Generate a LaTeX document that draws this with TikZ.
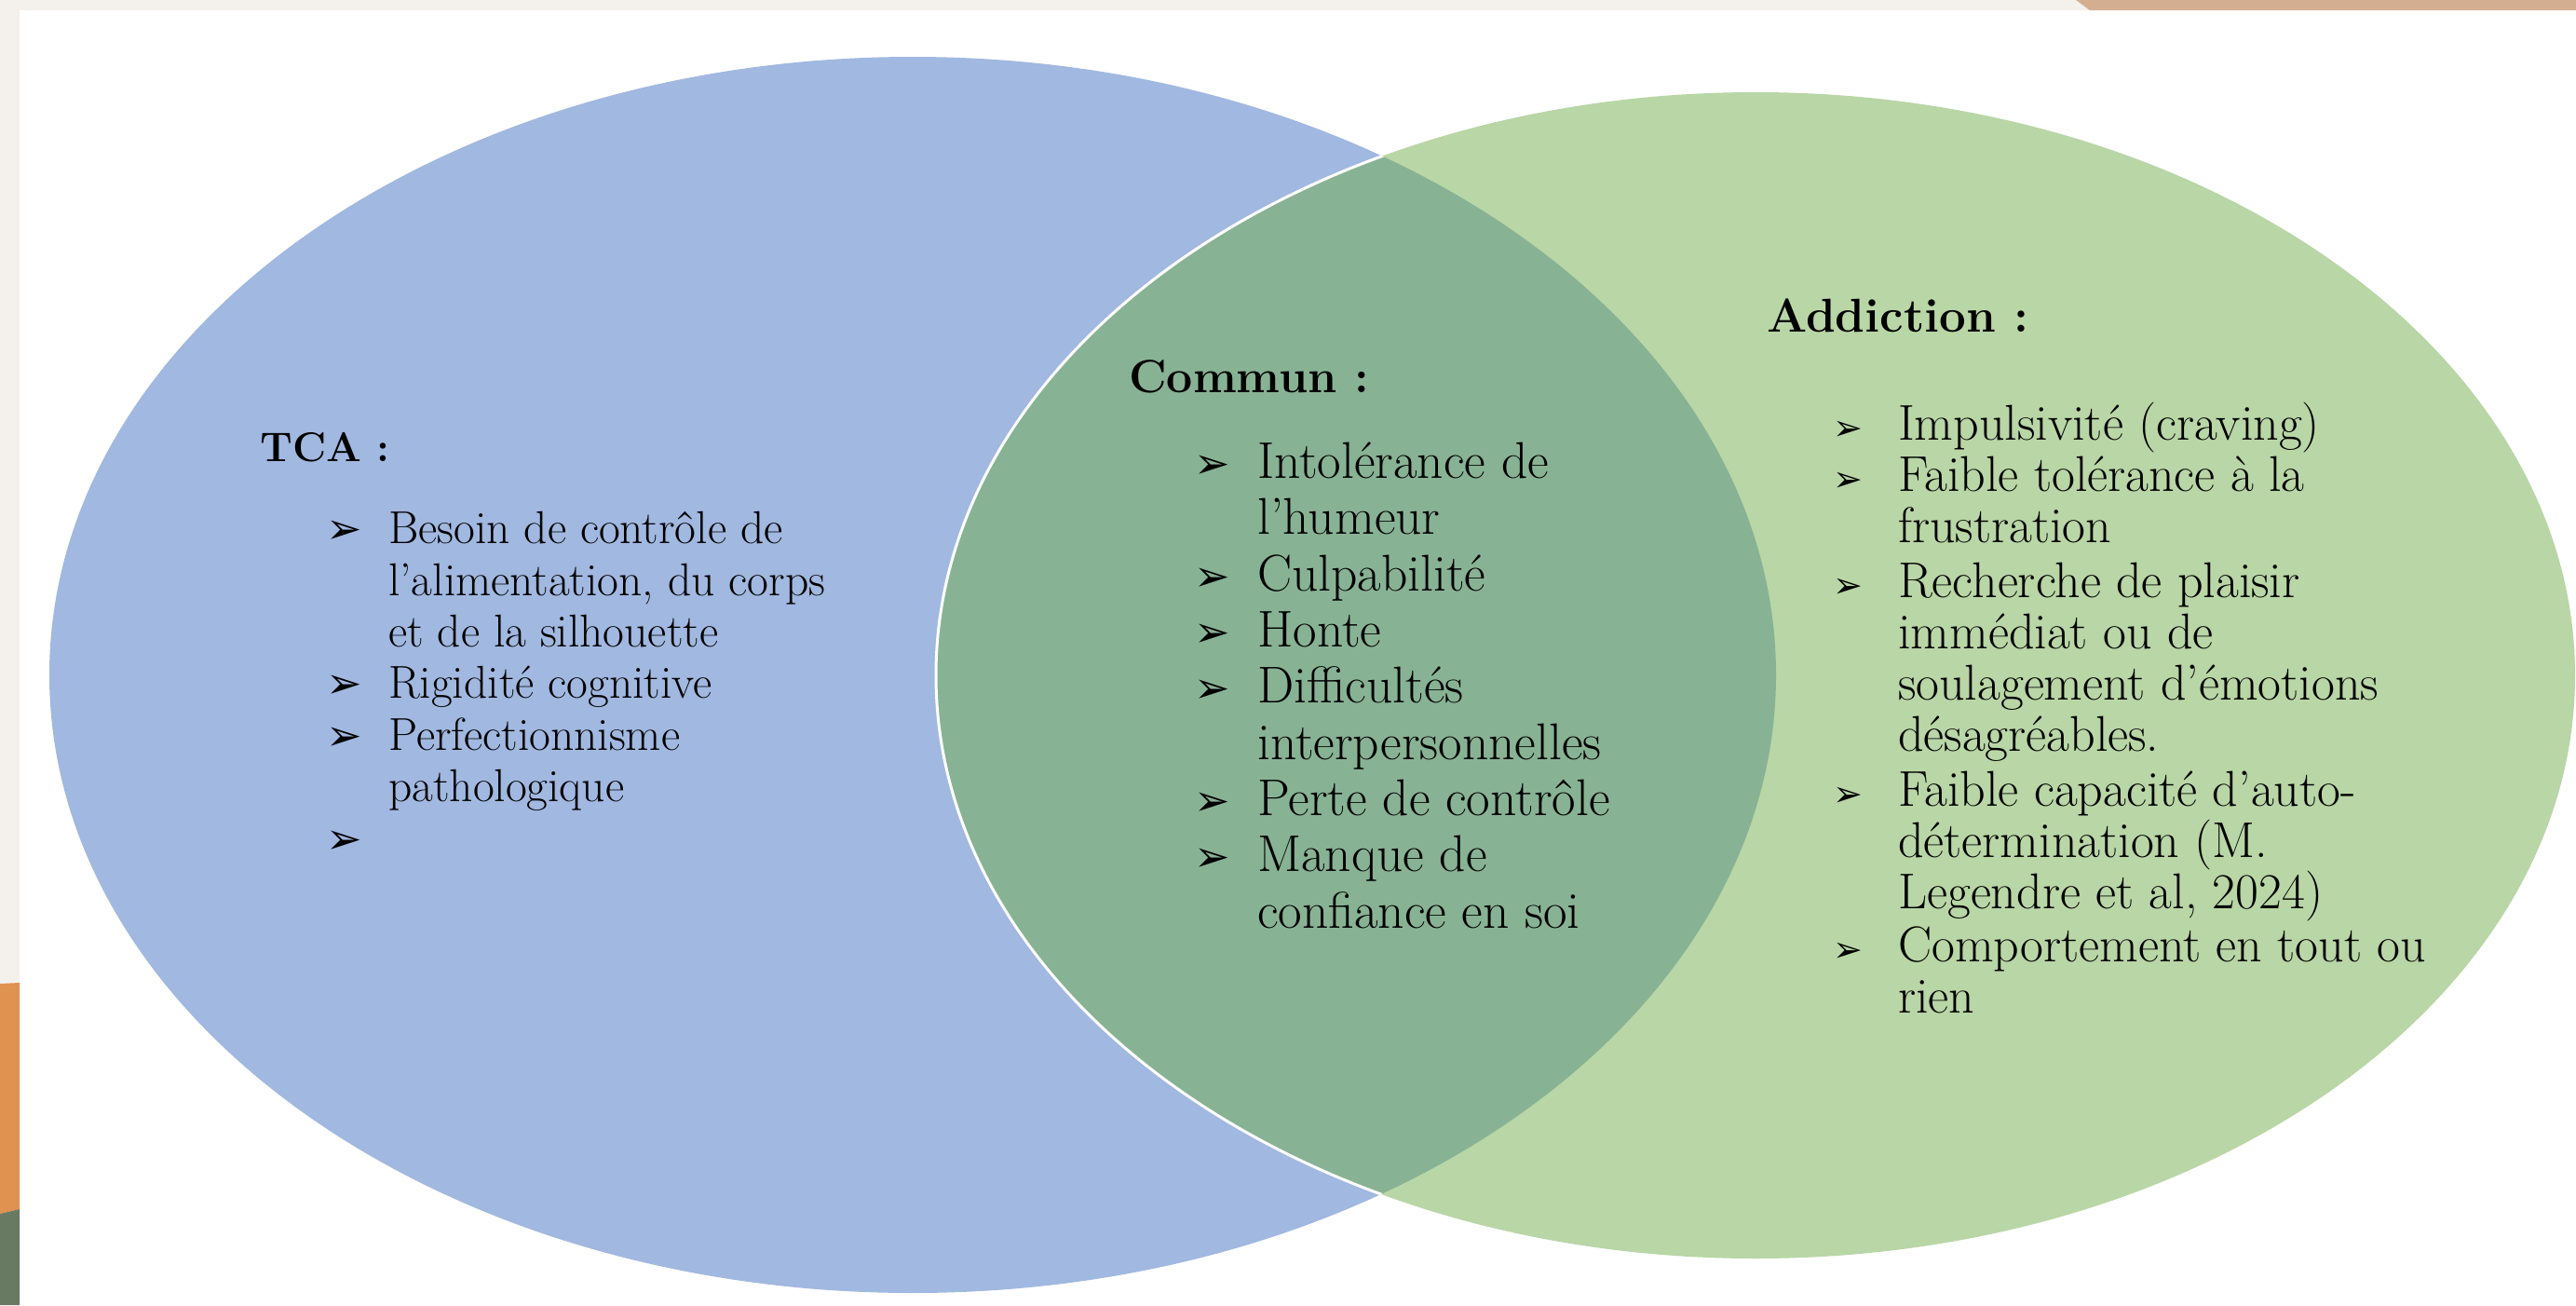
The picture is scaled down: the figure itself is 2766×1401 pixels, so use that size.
\documentclass[tikz,border=0pt]{standalone}
\usepackage{fontspec}
\newfontfamily\dejavu{DejaVu Sans}
\definecolor{bgbeige}{RGB}{244,240,236}
\definecolor{bgtan}{RGB}{212,174,144}
\definecolor{bgorange}{RGB}{224,146,80}
\definecolor{bgdkgreen}{RGB}{104,122,98}
\definecolor{blueE}{RGB}{161,184,224}
\definecolor{greenE}{RGB}{185,214,166}
\definecolor{overlapE}{RGB}{136,178,148}
\newcommand{\bl}[2]{\makebox[#1][l]{\dejavu\fontsize{#2}{#2}\selectfont ➢}}
\newcommand{\ind}[1]{\hspace*{#1}}
\begin{document}
\begin{tikzpicture}[x=1pt,y=-1pt,
  hd/.style={anchor=base west,inner sep=0pt},
  lst/.style={anchor=base west,inner sep=0pt,align=left}]
\useasboundingbox (0,0) rectangle (2766,1401);
% background
\fill[bgbeige] (0,0) rectangle (2766,1401);
\fill[white] (21,11) rectangle (2766,1401);
\fill[bgtan] (2229,0) -- (2766,0) -- (2766,11) -- (2244,11) -- cycle;
\fill[bgorange] (0,1056) -- (21,1055) -- (21,1298) -- (0,1303) -- cycle;
\fill[bgdkgreen] (0,1303) -- (21,1298) -- (21,1401) -- (0,1401) -- cycle;
% ellipses
\fill[blueE] (980,724.5) ellipse [x radius=927pt, y radius=663.5pt];
\fill[greenE] (1885,725) ellipse [x radius=880pt, y radius=626pt];
\begin{scope}
  \clip (980,724.5) ellipse [x radius=927pt, y radius=663.5pt];
  \fill[overlapE] (1885,725) ellipse [x radius=880pt, y radius=626pt];
\end{scope}
\begin{scope}
  \clip (980,724.5) ellipse [x radius=927pt, y radius=663.5pt];
  \draw[white,line width=3pt] (1885,725) ellipse [x radius=880pt, y radius=626pt];
\end{scope}
% TCA
\node[hd,font=\fontsize{44.5}{55.4}\selectfont\bfseries] (tca) at (279,495) {TCA :};
\node[lst,font=\fontsize{49.5}{55.4}\selectfont] (tcalist) at (350,916)
 {\bl{67pt}{46}Besoin de contrôle de\\
  \ind{67pt}l’alimentation, du corps\\
  \ind{67pt}et de la silhouette\\
  \bl{67pt}{46}Rigidité cognitive\\
  \bl{67pt}{46}Perfectionnisme\\
  \ind{67pt}pathologique\\
  \bl{67pt}{46}};
% Commun
\node[hd,font=\fontsize{50}{60.3}\selectfont\bfseries] (com) at (1212,421) {Commun :};
\node[lst,font=\fontsize{55.5}{60.3}\selectfont] (comlist) at (1282,996)
 {\bl{68pt}{46}Intolérance de\\
  \ind{68pt}l’humeur\\
  \bl{68pt}{46}Culpabilité\\
  \bl{68pt}{46}Honte\\
  \bl{68pt}{46}Difficultés\\
  \ind{68pt}interpersonnelles\\
  \bl{68pt}{46}Perte de contrôle\\
  \bl{68pt}{46}Manque de\\
  \ind{68pt}confiance en soi};
% Addiction
\node[hd,font=\fontsize{51}{55}\selectfont\bfseries] (add) at (1897,356) {Addiction :};
\node[lst,font=\fontsize{54}{55}\selectfont] (addlist) at (1968,1087)
 {\bl{70pt}{38}Impulsivité (craving)\\
  \bl{70pt}{38}Faible tolérance à la\\
  \ind{70pt}frustration\\[4pt]
  \bl{70pt}{38}Recherche de plaisir\\
  \ind{70pt}immédiat ou de\\
  \ind{70pt}soulagement d’émotions\\
  \ind{70pt}désagréables.\\[4pt]
  \bl{70pt}{38}Faible capacité d’auto-\\
  \ind{70pt}détermination (M.\\
  \ind{70pt}Legendre et al, 2024)\\[2pt]
  \bl{70pt}{38}Comportement en tout ou\\
  \ind{70pt}rien};
\end{tikzpicture}
\end{document}
